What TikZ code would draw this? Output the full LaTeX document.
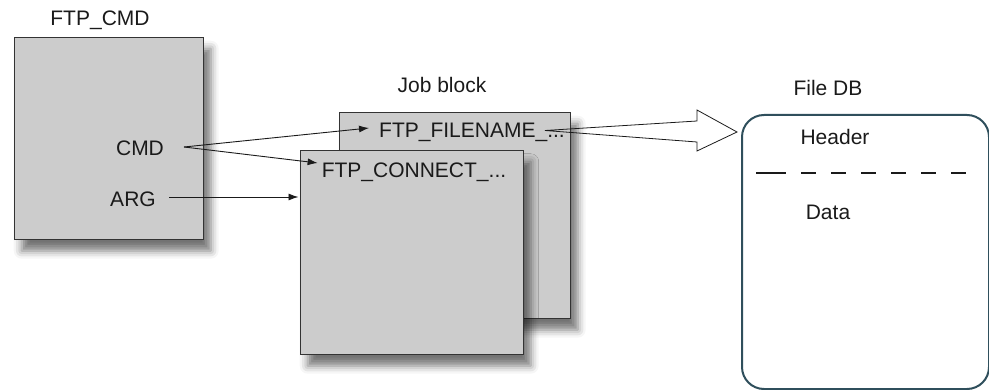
\documentclass[tikz,border=0pt]{standalone}
\usepackage{fontspec}
\setmainfont{Liberation Sans}
\usetikzlibrary{arrows.meta,shadows.blur}
\definecolor{boxgray}{RGB}{204,204,204}
\definecolor{edgegray}{RGB}{51,51,51}
\definecolor{dbedge}{RGB}{47,79,92}
\definecolor{txtc}{RGB}{26,26,26}
\begin{document}
\begin{tikzpicture}[x=1pt,y=-1pt,
  txt/.style={font=\fontsize{21}{24}\selectfont, text=txtc, inner sep=0pt},
  gbox/.style={draw=edgegray, line width=1.4pt, fill=boxgray, anchor=north west, inner sep=0pt,
    blur shadow={shadow xshift=7pt, shadow yshift=-11pt, shadow blur radius=8pt, shadow opacity=55}},
  dbbox/.style={draw=dbedge, line width=2pt, rounded corners=22pt, anchor=north west, inner sep=0pt},
  arr/.style={draw=txtc, line width=0.9pt, -{Latex[length=10pt,width=7pt]}},
  hollow/.style={draw=txtc, line width=0.8pt, line join=miter},
  dashln/.style={draw=txtc, line width=1.5pt, dash pattern=on 15pt off 15pt}
]
\useasboundingbox (0,0) rectangle (989,390);

% FTP_CMD block
\node[txt] (cmdtitle) at (100,20) {FTP\_CMD};
\node[gbox, minimum width=189pt, minimum height=202pt] (cmdbox) at (14,37) {};
\node[txt] (cmdl) at (140,148) {CMD};
\node[txt] (argl) at (133,199) {ARG};

% Job blocks
\node[txt] (jobtitle) at (442,85) {Job block};
\node[gbox, minimum width=231pt, minimum height=206pt] (jback) at (339,112) {};
\node[gbox, minimum width=223pt, minimum height=204pt] (jfront) at (300,150) {};
\node[txt, inner xsep=10pt] (fn) at (472,132) {FTP\_FILENAME\_...};
\node[txt, inner xsep=4pt] (cn) at (414,172) {FTP\_CONNECT\_...};

% File DB
\node[txt] (dbtitle) at (828,88) {File DB};
\node[dbbox, minimum width=247pt, minimum height=274pt] (db) at (741,114) {};
\node[txt] (hdr) at (835,137) {Header};
\node[txt] (data) at (828,212) {Data};
\coordinate (dl) at (756,173);
\coordinate (dm) at (771,173);
\coordinate (dr) at (967,173);
\draw[txtc, line width=1.5pt] (dl) -- (dm);
\draw[dashln] (dm) -- (dr);

% connectors
\coordinate (cmdout) at (184,147);
\coordinate (argout) at (169,197);
\draw[arr] (cmdout) -- ([yshift=4pt]fn.west);
\draw[arr] (cmdout) -- ([yshift=9pt]cn.west);
\draw[arr, shorten >=1.5pt] (argout) -- (argout -| jfront.west);

% hollow arrow from FTP_FILENAME to File DB
\coordinate (ha) at (545,130.5);
\draw[hollow] (ha) -- (697,121) -- (697,110) -- ([xshift=-4pt]db.west |- 0,132) -- (697,151) -- (697,142) -- cycle;
\end{tikzpicture}
\end{document}
